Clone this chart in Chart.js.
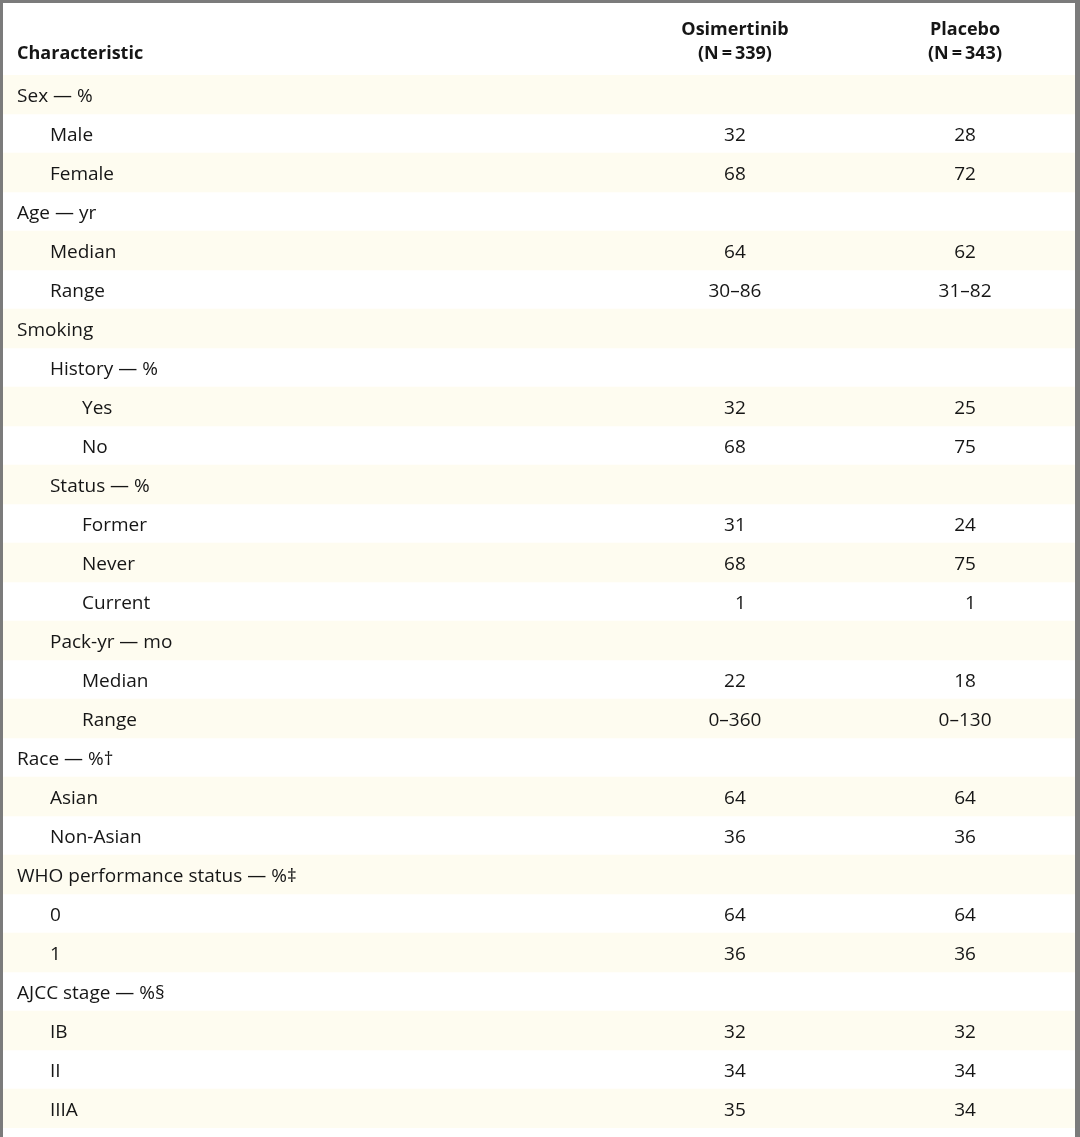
<!DOCTYPE html>
<html>
<head>
<meta charset="utf-8">
<script src="https://cdn.jsdelivr.net/npm/chart.js@4.4.1/dist/chart.umd.min.js"></script>
<style>
  html, body { margin: 0; padding: 0; background: #ffffff; }
  canvas { display: block; }
</style>
</head>
<body>
<canvas id="c" width="1080" height="1137"></canvas>
<script>
// ---- Table data ----
const headerLabel = 'Characteristic';
const columnHeaders = [
  ['Osimertinib', '(N\u2009=\u2009339)'],
  ['Placebo', '(N\u2009=\u2009343)']
];
const rowLabels = [
  'Sex \u2014 %', 'Male', 'Female',
  'Age \u2014 yr', 'Median', 'Range',
  'Smoking', 'History \u2014 %', 'Yes', 'No',
  'Status \u2014 %', 'Former', 'Never', 'Current',
  'Pack-yr \u2014 mo', 'Median', 'Range',
  'Race \u2014 %\u2020', 'Asian', 'Non-Asian',
  'WHO performance status \u2014 %\u2021', '0', '1',
  'AJCC stage \u2014 %\u00a7', 'IB', 'II', 'IIIA'
];
const rowLevels = [0,1,1, 0,1,1, 0,1,2,2, 1,2,2,2, 1,2,2, 0,1,1, 0,1,1, 0,1,1,1];
const osimertinib = ['', '32', '68', '', '64', '30\u201386', '', '', '32', '68', '', '31', '68', '\u20071', '', '22', '0\u2013360', '', '64', '36', '', '64', '36', '', '32', '34', '35'];
const placebo     = ['', '28', '72', '', '62', '31\u201382', '', '', '25', '75', '', '24', '75', '\u20071', '', '18', '0\u2013130', '', '64', '36', '', '64', '36', '', '32', '34', '34'];

// ---- Layout / style constants (positions on the x scale, 0..1) ----
const indentX = [0.0131, 0.0438, 0.0737];
const columnX = [0.6828, 0.8974];
const FONT = '"Open Sans", "Noto Sans", sans-serif';
const TEXT = '#161616';
const STRIPE = '#fefcf0';

const tablePlugin = {
  id: 'tableText',
  beforeDraw(chart) {
    const ctx = chart.ctx;
    ctx.save();
    ctx.fillStyle = '#ffffff';
    ctx.fillRect(0, 0, chart.width, chart.height);
    ctx.restore();
  },
  afterDraw(chart) {
    const ctx = chart.ctx;
    const xs = chart.scales.x, ys = chart.scales.y;
    const top = chart.chartArea.top;
    ctx.save();
    ctx.fillStyle = TEXT;
    ctx.textBaseline = 'middle';
    // header
    ctx.font = 'bold 18px ' + FONT;
    ctx.textAlign = 'left';
    ctx.fillText(headerLabel, xs.getPixelForValue(indentX[0]), top - 21);
    ctx.textAlign = 'center';
    columnHeaders.forEach((h, c) => {
      const x = xs.getPixelForValue(columnX[c]);
      ctx.fillText(h[0], x, top - 45);
      ctx.fillText(h[1], x, top - 21);
    });
    // body
    ctx.font = '19px ' + FONT;
    rowLabels.forEach((lab, i) => {
      const y = ys.getPixelForValue(i) + 2.5;
      ctx.textAlign = 'left';
      ctx.fillText(lab, xs.getPixelForValue(indentX[rowLevels[i]]), y);
      ctx.textAlign = 'center';
      ctx.fillText(osimertinib[i], xs.getPixelForValue(columnX[0]), y);
      ctx.fillText(placebo[i], xs.getPixelForValue(columnX[1]), y);
    });
    // frame
    ctx.fillStyle = '#7b7b7b';
    ctx.fillRect(0, 0, 3, chart.height);
    ctx.fillRect(0, 0, chart.width, 3);
    ctx.fillRect(chart.width - 5, 0, 5, chart.height);
    ctx.restore();
  }
};

new Chart(document.getElementById('c'), {
  type: 'bar',
  data: {
    labels: rowLabels,
    datasets: [{
      data: rowLabels.map(() => 1),
      backgroundColor: (c) => (c.dataIndex % 2 === 0 ? STRIPE : 'rgba(0,0,0,0)'),
      borderWidth: 0,
      barPercentage: 1,
      categoryPercentage: 1
    }]
  },
  options: {
    indexAxis: 'y',
    responsive: false,
    animation: false,
    devicePixelRatio: 1,
    layout: { padding: { top: 75, left: 3, right: 5, bottom: 9 } },
    scales: {
      x: { display: false, min: 0, max: 1 },
      y: { display: false }
    },
    plugins: { legend: { display: false }, tooltip: { enabled: false } }
  },
  plugins: [tablePlugin]
});
</script>
</body>
</html>
